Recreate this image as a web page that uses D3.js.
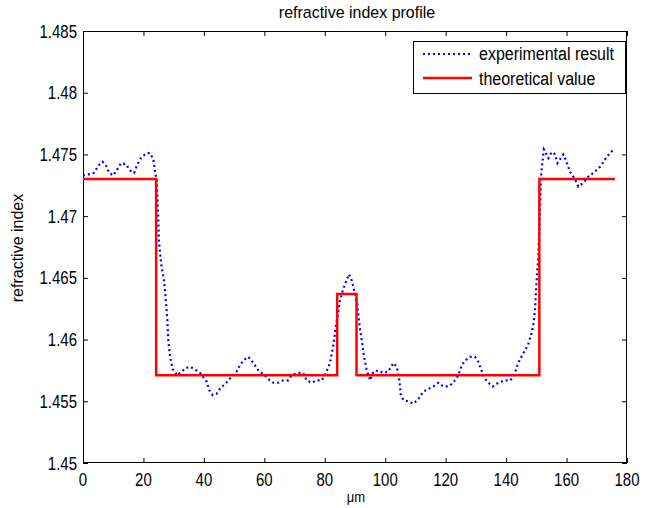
<!DOCTYPE html>
<html>
<head>
<meta charset="utf-8">
<script src="https://cdn.jsdelivr.net/npm/d3@7"></script>
<style>
  html, body { margin: 0; padding: 0; background: #fff; }
  svg { display: block; }
  text { font-family: "Liberation Sans", Arial, Helvetica, sans-serif; fill: #000; }
</style>
</head>
<body>
<div id="chart"></div>
<script>
const title = "refractive index profile";
const xLabel = "\u03bcm";
const yLabel = "refractive index";
const seriesNames = ["experimental result", "theoretical value"];

const xTicks = [0, 20, 40, 60, 80, 100, 120, 140, 160, 180];
const yTicks = [1.45, 1.455, 1.46, 1.465, 1.47, 1.475, 1.48, 1.485];
const yTickLabels = ["1.45", "1.455", "1.46", "1.465", "1.47", "1.475", "1.48", "1.485"];

const expX = [0, 0.7, 2.1, 3.6, 5.1, 6.5, 7.6, 8.7, 10, 11.1, 12.6, 14.2, 15.6, 16.9, 18, 19.4, 21.1, 22.2, 23.3, 23.9, 24.4,
  24.9, 25.1, 25.5, 26, 26.8, 27.3, 27.9, 28.2, 28.8, 29.7, 31.2, 32.6, 34.1, 35.4, 37.6, 38.7, 40.9, 41.8, 42.9, 44.2, 45.3,
  47.8, 49.2, 50.8, 51.9, 53, 54.7, 56.4, 58, 60.2, 61.3, 63, 64.6, 66.3, 67.9, 69, 71.2, 72.9, 74, 75.7, 77.3, 79, 80.4,
  81.7, 82.6, 83.1, 83.6, 84.5, 85, 86.1, 86.9, 88, 88.9, 89.7, 90.8, 91.4, 92.2, 93, 93.9, 95, 96.1, 97.7, 99.4, 101,
  102.7, 103.8, 104.7, 105.1, 106, 107.6, 109.3, 111, 112.6, 114.3, 115.9, 117.6, 119.3, 120.9, 122.5, 124.2, 125.3, 126.4,
  128.1, 129.7, 130.8, 132, 133.6, 135.6, 137.4, 139.6, 141.5, 142.9, 144, 145.7, 147.3, 148.4, 149, 149.6, 149.9, 150.3,
  150.6, 151.4, 151.5, 151.9, 152.5, 153.4, 154, 155.1, 156.2, 157, 157.8, 158.9, 160, 161.1, 162.5, 163.9, 165.6, 167.2,
  168.9, 171.1, 173.3, 175.5];
const expY = [1.4733, 1.4733, 1.4734, 1.4735, 1.4741, 1.4744, 1.4741, 1.4735, 1.4733, 1.4737, 1.4743, 1.4742, 1.4737, 1.4735,
  1.4742, 1.4748, 1.4751, 1.4751, 1.4746, 1.4735, 1.4729,
  1.4698, 1.4681, 1.4670, 1.4659, 1.4648, 1.4635, 1.4616, 1.4600, 1.4586, 1.4576, 1.4571, 1.4574, 1.4577, 1.4578, 1.4575,
  1.4573, 1.4566, 1.4559, 1.4555, 1.4556, 1.4560,
  1.4566, 1.4570, 1.4574, 1.4579, 1.4583, 1.4586, 1.4581, 1.4575, 1.4571, 1.4568, 1.4565, 1.4565, 1.4567, 1.4567, 1.4571,
  1.4573, 1.4573, 1.4567, 1.4565, 1.4567, 1.4567, 1.4573,
  1.4581, 1.4592, 1.4600, 1.4610, 1.4623, 1.4631, 1.4641, 1.4646, 1.4653, 1.4648, 1.4640, 1.4628, 1.4613, 1.4600, 1.4586,
  1.4575, 1.4567, 1.4574, 1.4575, 1.4573, 1.4574,
  1.4581, 1.4578, 1.4567, 1.4556, 1.4551, 1.4550, 1.4548, 1.4552, 1.4558, 1.4560, 1.4562, 1.4565, 1.4562, 1.4562, 1.4565,
  1.4571, 1.4579, 1.4583,
  1.4586, 1.4586, 1.4582, 1.4574, 1.4566, 1.4562, 1.4565, 1.4567, 1.4567, 1.4573, 1.4581, 1.4589, 1.4596, 1.4605, 1.4612,
  1.4625, 1.4640, 1.4656,
  1.4664, 1.4719, 1.4732, 1.4741, 1.4754, 1.4750, 1.4747, 1.4752, 1.4750, 1.4743, 1.4746, 1.4750, 1.4744, 1.4736, 1.4731,
  1.4724, 1.4727, 1.4732,
  1.4735, 1.4740, 1.4748, 1.4754];

const theoX = [0, 24.2, 24.2, 84.1, 84.1, 90.5, 90.5, 151, 151, 176];
const theoY = [1.473, 1.473, 1.4571, 1.4571, 1.4637, 1.4637, 1.4571, 1.4571, 1.473, 1.473];

const W = 649, H = 508;
const L = 83, R = 627, T = 31, B = 463;

const svg = d3.select("#chart").append("svg").attr("width", W).attr("height", H);
svg.append("rect").attr("width", W).attr("height", H).attr("fill", "#fff");

const x = d3.scaleLinear().domain([0, 180]).range([L, R]);
const y = d3.scaleLinear().domain([1.45, 1.485]).range([B, T]);

svg.append("clipPath").attr("id", "clip").append("rect")
  .attr("x", L).attr("y", T).attr("width", R - L).attr("height", B - T);

// text helper: position + vertical stretch (the reference glyphs are tall)
function addText(parent, tx, ty, str, size, anchor, k, rot) {
  return parent.append("text")
    .attr("transform", `translate(${tx},${ty})${rot ? " rotate(" + rot + ")" : ""} scale(1,${k})`)
    .attr("text-anchor", anchor)
    .style("font-size", size + "px")
    .text(str);
}

// axes with inward ticks (labels drawn separately)
const xAxisB = svg.append("g").attr("transform", `translate(0,${B})`)
  .call(d3.axisBottom(x).tickValues(xTicks).tickFormat("").tickSizeInner(-5).tickSizeOuter(0));
const xAxisT = svg.append("g").attr("transform", `translate(0,${T})`)
  .call(d3.axisTop(x).tickValues(xTicks).tickFormat("").tickSizeInner(-5).tickSizeOuter(0));
const yAxisL = svg.append("g").attr("transform", `translate(${L},0)`)
  .call(d3.axisLeft(y).tickValues(yTicks).tickFormat("").tickSizeInner(-5).tickSizeOuter(0));
const yAxisR = svg.append("g").attr("transform", `translate(${R},0)`)
  .call(d3.axisRight(y).tickValues(yTicks).tickFormat("").tickSizeInner(-5).tickSizeOuter(0));

[xAxisB, xAxisT, yAxisL, yAxisR].forEach(g => {
  g.select(".domain").remove();
  g.selectAll(".tick line").attr("stroke", "#000").attr("stroke-width", 1);
  g.selectAll("text").remove();
});

const tickK = 1.25;
xTicks.forEach(v => addText(svg, x(v), 486, String(v), 15, "middle", tickK));
yTicks.forEach((v, i) => addText(svg, 77, y(v) + 6.5, yTickLabels[i], 15, "end", tickK));

svg.append("rect").attr("x", L + 0.5).attr("y", T + 0.5).attr("width", R - L - 1).attr("height", B - T - 1)
  .attr("fill", "none").attr("stroke", "#000").attr("stroke-width", 1);

const g = svg.append("g").attr("clip-path", "url(#clip)");

const line = d3.line().x(d => x(d[0])).y(d => y(d[1]));
const expData = expX.map((v, i) => [v, expY[i]]);
const theoData = theoX.map((v, i) => [v, theoY[i]]);

g.append("path").datum(expData).attr("d", line)
  .attr("fill", "none").attr("stroke", "#0000ff").attr("stroke-width", 2.2)
  .attr("stroke-dasharray", "2,3");
g.append("path").datum(theoData).attr("d", line)
  .attr("fill", "none").attr("stroke", "#ff0000").attr("stroke-width", 2.5);

// title and labels
addText(svg, 357, 18, title, 16, "middle", 1.05);
addText(svg, 356, 502, xLabel, 13, "middle", 1.1);
addText(svg, 23, 248, yLabel, 16, "middle", 1.05, -90);

// legend
const lg = svg.append("g");
lg.append("rect").attr("x", 413.5).attr("y", 41.5).attr("width", 212).attr("height", 52)
  .attr("fill", "#fff").attr("stroke", "#000").attr("stroke-width", 1);
lg.append("line").attr("x1", 423).attr("x2", 472).attr("y1", 54).attr("y2", 54)
  .attr("stroke", "#0000ff").attr("stroke-width", 2.2).attr("stroke-dasharray", "2,3");
lg.append("line").attr("x1", 423).attr("x2", 472).attr("y1", 78).attr("y2", 78)
  .attr("stroke", "#ff0000").attr("stroke-width", 2.5);
addText(lg, 479, 59.5, seriesNames[0], 16, "start", 1.1);
addText(lg, 479, 84.5, seriesNames[1], 16, "start", 1.1);
</script>
</body>
</html>
